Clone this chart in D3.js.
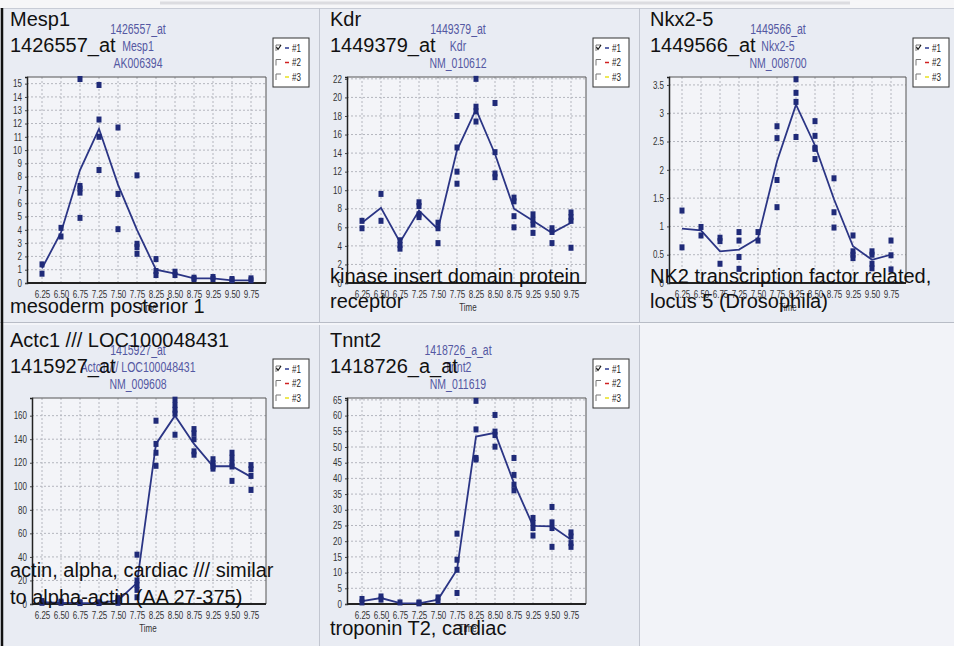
<!DOCTYPE html>
<html><head><meta charset="utf-8">
<script src="https://cdn.jsdelivr.net/npm/d3@7"></script>
<style>
html,body{margin:0;padding:0;background:#fff;}
svg{display:block;}
</style></head>
<body>
<svg id="chart" width="954" height="646"></svg>
<script>
// Developmental time points (embryonic day)
const times = ["6.25","6.50","6.75","7.25","7.50","7.75","8.25","8.50","8.75","9.25","9.50","9.75"];

// Mesp1 — mean profile and replicate values
const mesp1Mean = [1.1, 3.8, 8.5, 11.6, 7.4, 4.0, 1.0, 0.7, 0.35, 0.35, 0.2, 0.2];
const mesp1Reps = [[1.4,0.7],[4.15,3.5],[15.35,7.3,7.1,6.8,4.9],[14.9,12.3,11.0,8.5],[11.7,6.7,4.05],[8.1,2.95,2.7,2.2],[1.8,0.9,0.6],[0.85,0.6],[0.4,0.3],[0.45,0.3],[0.3,0.2],[0.35,0.2]];

// Kdr
const kdrMean = [6.5, 8.1, 4.4, 7.8, 5.8, 14.3, 18.7, 13.9, 8.0, 6.7, 5.4, 6.5];
const kdrReps = [[6.7,5.9],[9.6,6.7],[4.6,4.1,3.7],[8.7,8.3,7.4,7.1],[6.5,5.9,4.3],[18.0,14.6,12.0,10.7],[22.0,19.0,18.5,17.4],[19.4,14.1,11.8,11.4],[9.2,8.8,7.2,6.0],[7.4,6.8,6.3,5.4],[5.9,5.5,4.3],[7.6,7.1,6.7,3.8]];

// Nkx2-5
const nkxMean = [0.96, 0.93, 0.56, 0.59, 0.79, 2.15, 3.15, 2.43, 1.48, 0.65, 0.41, 0.5];
const nkxReps = [[1.28,0.63],[0.99,0.84],[0.8,0.74,0.34],[0.9,0.75,0.46,0.25],[0.9,0.75],[2.77,2.56,1.82,1.34],[3.6,3.36,3.2,2.58],[2.86,2.6,2.39,2.37,2.19],[1.85,1.25,0.98],[0.84,0.56,0.5,0.44],[0.56,0.5,0.34,0.26],[0.75,0.49,0.24]];

// Actc1 /// LOC100048431
const actcMean = [1.5, 1.0, 0.8, 0.8, 3.0, 18, 136, 160, 136, 117, 117, 108];
const actcReps = [[2.5,1],[2,1],[1.5,0.8],[1.5,0.8],[5,2,1],[41.9,20,16.2,12,5.7],[155.7,136,128.5,117.4],[173.6,169,165,161.7,143.8],[148.6,145,140,129.7,126.8],[123,119.6,117,115],[128.5,124.3,119.9,116.8,104.6],[118,114.5,108.8,96.9]];

// Tnnt2
const tnntMean = [0.9, 1.9, 0.3, 0.2, 1.4, 10.9, 53.3, 54.5, 38.5, 24.9, 24.7, 20.5];
const tnntReps = [[1.6,0.5],[2.4,1.4],[0.5],[0.5,0.2],[2.1,0.9],[22.4,14.1,10.9,3.5],[64.7,55.6,46.5,46.0],[60.2,54.9,53.8,50.1],[46.5,41.1,38.0,36.2],[27.4,25.8,24.2,21.8],[30.9,26.0,24.2,18.2],[22.8,21.5,19.4,18.2]];

// Labels
const symbols = ["Mesp1","Kdr","Nkx2-5","Actc1 /// LOC100048431","Tnnt2"];
const probes = ["1426557_at","1449379_at","1449566_at","1415927_at","1418726_a_at"];
const accessions = ["AK006394","NM_010612","NM_008700","NM_009608","NM_011619"];
const descriptions = [
  ["mesoderm posterior 1"],
  ["kinase insert domain protein","receptor"],
  ["NK2 transcription factor related,","locus 5 (Drosophila)"],
  ["actin, alpha, cardiac /// similar","to alpha-actin (AA 27-375)"],
  ["troponin T2, cardiac"]
];
const yTickValues = [
  d3.range(0, 16, 1),
  d3.range(0, 23, 2),
  d3.range(0, 3.51, 0.5),
  d3.range(0, 161, 20),
  d3.range(0, 66, 5)
];
const yTop = [15.5, 22.2, 3.64, 175, 65.6];
const legendItems = ["#1","#2","#3"];
const legendColors = ["#2b3a8f","#d02020","#e8e020"];

const means = [mesp1Mean, kdrMean, nkxMean, actcMean, tnntMean];
const reps = [mesp1Reps, kdrReps, nkxReps, actcReps, tnntReps];

// Panel layout (origin, plot left edge, description baselines)
const layout = [
  {ox:0,   oy:0,   left:27, desc:[313]},
  {ox:320, oy:0,   left:27, desc:[283,308]},
  {ox:640, oy:0,   left:29, desc:[283,308]},
  {ox:0,   oy:321, left:32, desc:[256,283]},
  {ox:320, oy:321, left:27, desc:[314]}
];

const svg = d3.select("#chart");
const BIG = "'Liberation Sans', Arial, sans-serif";

// narrow lettering: Arial-metric glyphs squeezed horizontally
function condense(sel, f = 0.8) {
  sel.each(function() {
    const w = this.getComputedTextLength();
    if (w > 0) d3.select(this).attr("textLength", w * f).attr("lengthAdjust", "spacingAndGlyphs");
  });
}

// page background and panel frames
svg.append("rect").attr("width",954).attr("height",646).attr("fill","#f6f6f8");
svg.append("rect").attr("x",0).attr("y",8).attr("width",954).attr("height",638).attr("fill","#e9ecf3");
svg.append("rect").attr("x",640).attr("y",322).attr("width",314).attr("height",324).attr("fill","#f2f3f8");
svg.append("line").attr("x1",160).attr("x2",850).attr("y1",3).attr("y2",3).attr("stroke","#dcdce0").attr("stroke-width",3);
svg.append("line").attr("x1",0).attr("x2",954).attr("y1",8.5).attr("y2",8.5).attr("stroke","#c8ccd6");
svg.append("line").attr("x1",319.5).attr("x2",319.5).attr("y1",8).attr("y2",646).attr("stroke","#c2c6d0");
svg.append("line").attr("x1",639.5).attr("x2",639.5).attr("y1",8).attr("y2",646).attr("stroke","#c2c6d0");
svg.append("line").attr("x1",0).attr("x2",954).attr("y1",322.5).attr("y2",322.5).attr("stroke","#b8bcc6");
svg.append("line").attr("x1",0).attr("x2",954).attr("y1",324).attr("y2",324).attr("stroke","#f4f5f9").attr("stroke-width",2);
svg.append("line").attr("x1",2).attr("x2",2).attr("y1",8).attr("y2",646).attr("stroke","#111").attr("stroke-width",2.5);

layout.forEach((L, k) => {
  const g = svg.append("g").attr("transform", `translate(${L.ox},${L.oy})`);
  const top = 77, bottom = 283, right = 266;
  const x = d3.scalePoint().domain(times).range([42, 251]);
  const y = d3.scaleLinear().domain([0, yTop[k]]).range([bottom, top]);

  // plot area
  g.append("rect").attr("x",L.left).attr("y",top).attr("width",right-L.left).attr("height",bottom-top)
    .attr("fill","#f3f4f8");

  // dotted grid
  g.append("g").selectAll("line").data(times).join("line")
    .attr("x1",d=>x(d)).attr("x2",d=>x(d)).attr("y1",top).attr("y2",bottom)
    .attr("stroke","#b4b6be").attr("stroke-dasharray","2,2");
  g.append("g").selectAll("line").data(yTickValues[k]).join("line")
    .attr("x1",L.left).attr("x2",right).attr("y1",d=>y(d)).attr("y2",d=>y(d))
    .attr("stroke","#b4b6be").attr("stroke-dasharray","2,2");

  // frame
  g.append("path").attr("d",`M${L.left},${top}H${right}V${bottom}`).attr("fill","none").attr("stroke","#555").attr("stroke-width",1);

  // y axis
  const ya = g.append("g").attr("transform",`translate(${L.left},0)`)
    .call(d3.axisLeft(y).tickValues(yTickValues[k]).tickSize(2).tickPadding(3)
      .tickFormat(d => d3.format("~g")(d)));
  ya.select(".domain").attr("stroke","#222").attr("stroke-width",1.5);
  ya.selectAll(".tick line").attr("stroke","#444");
  ya.selectAll("text").attr("font-family",BIG).attr("font-size",10).attr("fill","#333").call(condense);

  // x axis
  const xa = g.append("g").attr("transform",`translate(0,${bottom})`)
    .call(d3.axisBottom(x).tickSize(0).tickPadding(8));
  xa.select(".domain").attr("d",`M${L.left},0H${right}`).attr("stroke","#222").attr("stroke-width",2);
  xa.selectAll("text").attr("font-family",BIG).attr("font-size",10).attr("fill","#333").call(condense);

  g.append("text").attr("x",148).attr("y",311).attr("text-anchor","middle")
    .attr("font-family",BIG).attr("font-size",10).attr("fill","#333").text("Time").call(condense);

  // mean profile
  const line = d3.line().x((d,i)=>x(times[i])).y(d=>y(d));
  g.append("path").datum(means[k]).attr("d",line).attr("fill","none")
    .attr("stroke","#2b3585").attr("stroke-width",1.8);

  // replicate points
  const pts = reps[k].flatMap((arr,i)=>arr.map(v=>({t:times[i],v})));
  g.append("g").selectAll("rect").data(pts).join("rect")
    .attr("x",d=>x(d.t)-2.5).attr("y",d=>y(d.v)-3).attr("width",5).attr("height",6)
    .attr("fill","#1f2a78");

  // small header (probe, symbol, accession)
  [probes[k], symbols[k], accessions[k]].forEach((s,i)=>{
    g.append("text").attr("x",138).attr("y",34+i*17).attr("text-anchor","middle")
      .attr("font-family",BIG).attr("font-size",14).attr("fill","#5458a2").text(s)
      .call(condense, 0.75);
  });

  // legend
  const lg = g.append("g").attr("transform","translate(273,38)");
  lg.append("rect").attr("width",36).attr("height",49).attr("fill","#fff").attr("stroke","#333");
  legendItems.forEach((s,i)=>{
    const yy = 10 + i*14.5;
    lg.append("path").attr("d",`M3,${yy+3}V${yy-3}H8`).attr("fill","none").attr("stroke","#777").attr("stroke-width",1);
    if (i===0) lg.append("path").attr("d",`M3.5,${yy-1}L5,${yy+1.5}L8,${yy-3}`).attr("fill","none").attr("stroke","#111").attr("stroke-width",1.2);
    lg.append("line").attr("x1",12).attr("x2",16).attr("y1",yy).attr("y2",yy).attr("stroke",legendColors[i]).attr("stroke-width",1.5);
    lg.append("text").attr("x",19).attr("y",yy+3.5).attr("font-family",BIG).attr("font-size",10).attr("fill","#222").text(s).call(condense);
  });

  // big title
  g.append("text").attr("x",10).attr("y",26).attr("font-family",BIG).attr("font-size",20).attr("fill","#111").text(symbols[k]);
  g.append("text").attr("x",10).attr("y",52).attr("font-family",BIG).attr("font-size",20).attr("fill","#111").text(probes[k]);

  // description
  descriptions[k].forEach((s,i)=>{
    g.append("text").attr("x",10).attr("y",L.desc[i]).attr("font-family",BIG).attr("font-size",20)
      .attr("fill","#111").text(s);
  });
});
</script>
</body></html>
